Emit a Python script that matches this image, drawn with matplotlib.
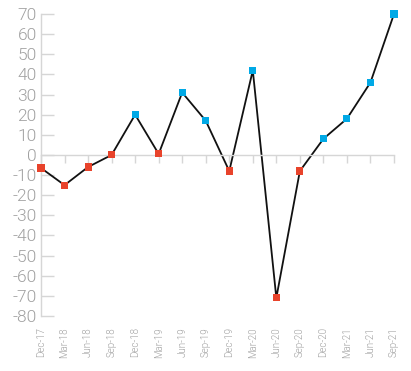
import matplotlib
matplotlib.use("Agg")
import matplotlib.pyplot as plt
import numpy as np

quarters = ["Dec-17", "Mar-18", "Jun-18", "Sep-18", "Dec-18", "Mar-19", "Jun-19", "Sep-19",
            "Dec-19", "Mar-20", "Jun-20", "Sep-20", "Dec-20", "Mar-21", "Jun-21", "Sep-21"]
values = [-6.5, -15, -6, 0, 20, 0.5, 31, 17, -8, 42, -71, -8, 8, 18, 36, 70]
is_red = [True, True, True, True, False, True, False, False, True, False, True, True,
          False, False, False, False]
yticks = list(range(-80, 71, 10))

RED = "#E8432B"
BLUE = "#00A9E6"
GRID = "#D6D6D6"
TXT = "#A0A0A0"

fig = plt.figure(figsize=(4.11, 3.71), dpi=100)
ax = fig.add_axes([41/411, 1-316/371, (394-41)/411, (316-14)/371])

x = np.arange(len(quarters))
ax.plot(x, values, color="#111111", lw=1.3, zorder=2, clip_on=False)
cols = [RED if r else BLUE for r in is_red]
ax.scatter(x, values, marker="s", s=26, c=cols, zorder=3, clip_on=False, linewidths=0)

ax.set_xlim(0, len(quarters)-1)
ax.set_ylim(-80, 70)

for s in ["top", "right"]:
    ax.spines[s].set_visible(False)
ax.spines["left"].set_color(GRID)
ax.spines["left"].set_linewidth(1)
ax.spines["bottom"].set_position(("data", 0))
ax.spines["bottom"].set_color(GRID)
ax.spines["bottom"].set_linewidth(1)

ax.set_yticks(yticks)
ax.set_yticklabels([str(v) for v in yticks])
ax.tick_params(axis="y", direction="in", length=9, width=1, color=GRID,
               labelcolor=TXT, labelsize=12.5, pad=3)
ax.set_xticks(x)
ax.tick_params(axis="x", direction="out", length=6, width=1, color=GRID, labelbottom=False)

sec = ax.secondary_xaxis("bottom")
sec.set_xticks(x)
sec.set_xticklabels(quarters, rotation=90)
sec.tick_params(length=0, labelcolor=TXT, labelsize=7, pad=8)
sec.spines["bottom"].set_visible(False)

for lab in ax.get_yticklabels():
    lab.set_fontfamily("Roboto")
    lab.set_fontweight(300)
for lab in sec.get_xticklabels():
    lab.set_fontfamily("Roboto")
    lab.set_fontweight(300)

fig.savefig("out.png", dpi=100)
